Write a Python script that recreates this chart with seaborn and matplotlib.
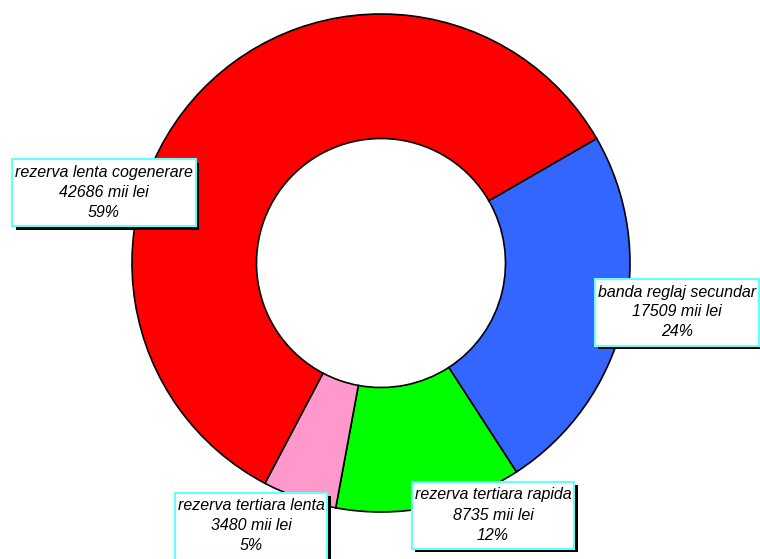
import matplotlib
matplotlib.use("Agg")
import matplotlib.pyplot as plt
import matplotlib.patheffects as pe
from matplotlib.patches import Rectangle
from matplotlib.transforms import Bbox
import seaborn as sns

# slices in clockwise order, starting at the red/blue boundary
categories = ["banda reglaj secundar", "rezerva tertiara rapida",
              "rezerva tertiara lenta", "rezerva lenta cogenerare"]
values = [17509, 8735, 3480, 42686]
colors = ["#3366FF", "#00FF00", "#FF99CC", "#FF0000"]

# label box centres in figure pixels (from top-left)
label_pos = [(677, 312), (493, 515), (251, 526), (104, 193)]

sns.set_style("white")
plt.rcParams["font.family"] = ["Liberation Sans", "DejaVu Sans"]

W, H = 760, 559
fig = plt.figure(figsize=(W / 100, H / 100), dpi=100)
ax = fig.add_axes([0, 0, 1, 1])

cx, cy, R = 381, 263, 249
ax.pie(values, colors=colors, startangle=30, counterclock=False,
       radius=1.0, center=(0, 0),
       wedgeprops=dict(width=0.5, edgecolor="black", linewidth=1.2))
ax.set_xlim(-cx / R, (W - cx) / R)
ax.set_ylim(-(H - cy) / R, cy / R)
ax.set_aspect("auto")
ax.axis("off")

total = sum(values)
renderer = fig.canvas.get_renderer()
step = 20  # px between lines
for name, v, (px, py) in zip(categories, values, label_pos):
    lines = [name, f"{v} mii lei", f"{round(v / total * 100)}%"]
    texts = []
    for i, line in enumerate(lines):
        y = py + (i - 1) * step
        t = fig.text(px / W, 1 - y / H, line, ha="center", va="center",
                     fontsize=11.5, style="italic", color="black", zorder=5)
        texts.append(t)
    bb = Bbox.union([t.get_window_extent(renderer) for t in texts])
    x0, y0 = bb.x0 - 3, bb.y0 - 6
    w, h = bb.width + 6, bb.height + 12
    rect = Rectangle((x0 / W, y0 / H), w / W, h / H, transform=fig.transFigure,
                     facecolor="white", edgecolor="#66FFFF", linewidth=1.5,
                     zorder=4)
    rect.set_path_effects([
        pe.SimplePatchShadow(offset=(2.5, -2.5), shadow_rgbFace="black", alpha=1.0),
        pe.Normal()])
    fig.add_artist(rect)

fig.savefig("out.png", dpi=100, facecolor="white")
